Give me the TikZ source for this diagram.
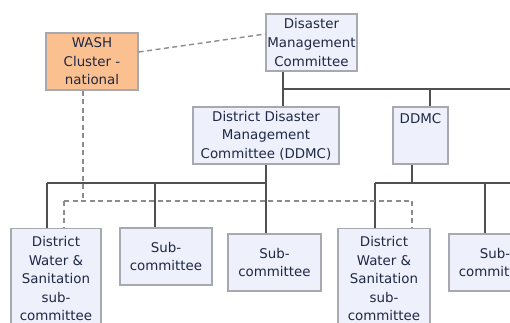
\documentclass[tikz,border=0pt]{standalone}
\usepackage{fontspec}
\setmainfont{DejaVu Sans}
\begin{document}
\begin{tikzpicture}[x=1pt,y=-1pt,
  box/.style={draw=boxline,fill=boxfill,line width=1.3pt,inner sep=0pt,align=center,
    text=txt,font=\fontsize{13.4}{18.5}\selectfont,anchor=center},
  wash/.style={box,fill=washfill},
  conn/.style={draw=connline,line width=1.9pt},
  dashedline/.style={draw=dashline,line width=1.4pt,dash pattern=on 5pt off 3.5pt}]
\definecolor{boxline}{HTML}{A8A8B0}
\definecolor{boxfill}{HTML}{EEF0FB}
\definecolor{washfill}{HTML}{FAC090}
\definecolor{txt}{HTML}{1F2845}
\definecolor{connline}{HTML}{505050}
\definecolor{dashline}{HTML}{8C8C8C}
\useasboundingbox (0,0) rectangle (510,322);
\clip (0,0) rectangle (510,322);
\fill[white] (0,0) rectangle (510,322);
% nodes
\node[wash,minimum width=92pt,minimum height=57pt] (wash) at (92,61.5) {WASH\\Cluster -\\national};
\node[box,minimum width=91pt,minimum height=57pt] (dmc) at (311.5,42.5) {Disaster\\Management\\Committee};
\node[box,minimum width=146pt,minimum height=57pt] (ddmcd) at (266,135.5) {District Disaster\\Management\\Committee (DDMC)};
\node[box,minimum width=55pt,minimum height=57pt,text depth=34pt] (ddmc) at (420.5,135.5) {DDMC};
\node[box,minimum width=90pt,minimum height=100pt,anchor=north] (b1) at (56,228) {District\\Water \&\\Sanitation\\sub-\\committee};
\node[box,minimum width=92pt,minimum height=57pt] (b2) at (166,256.5) {Sub-\\committee};
\node[box,minimum width=93pt,minimum height=57pt] (b3) at (274.5,262.5) {Sub-\\committee};
\node[box,minimum width=92pt,minimum height=100pt,anchor=north] (b4) at (384,228) {District\\Water \&\\Sanitation\\sub-\\committee};
\node[box,minimum width=92pt,minimum height=57pt] (b5) at (495,262.5) {Sub-\\committee};
% coordinates
\coordinate (ja) at (283,89);
\coordinate (jb) at (510,89);
\coordinate (jc) at (430,89);
\coordinate (ka) at (47,183);
\coordinate (kb) at (266,183);
\coordinate (kc) at (155,183);
\coordinate (la) at (375,183);
\coordinate (lb) at (510,183);
\coordinate (lc) at (412,183);
\coordinate (lr) at (485,183);
\coordinate (da) at (83,201);
\coordinate (dl) at (64,201);
\coordinate (dr) at (412,201);
% connectors
\draw[conn] (dmc.south -| ja) -- (ddmcd.north -| ja);
\draw[conn] (ja) -- (jb);
\draw[conn] (jc) -- (ddmc.north -| jc);
\draw[conn] (ddmcd.south) -- (kb);
\draw[conn] (ka) -- (kb);
\draw[conn] (ka) -- (b1.north -| ka);
\draw[conn] (kc) -- (b2.north -| kc);
\draw[conn] (kb) -- (b3.north -| kb);
\draw[conn] (ddmc.south -| lc) -- (lc);
\draw[conn] (la) -- (lb);
\draw[conn] (la) -- (b4.north -| la);
\draw[conn] (lr) -- (b5.north -| lr);
% dashed
\draw[dashedline] (wash.east |- 0,52) -- (dmc.west |- 0,34);
\draw[dashedline] (wash.south -| da) -- (da);
\draw[dashedline] (dl) -- (dr);
\draw[dashedline] (dl) -- (b1.north -| dl);
\draw[dashedline] (dr) -- (b4.north -| dr);
\end{tikzpicture}
\end{document}
